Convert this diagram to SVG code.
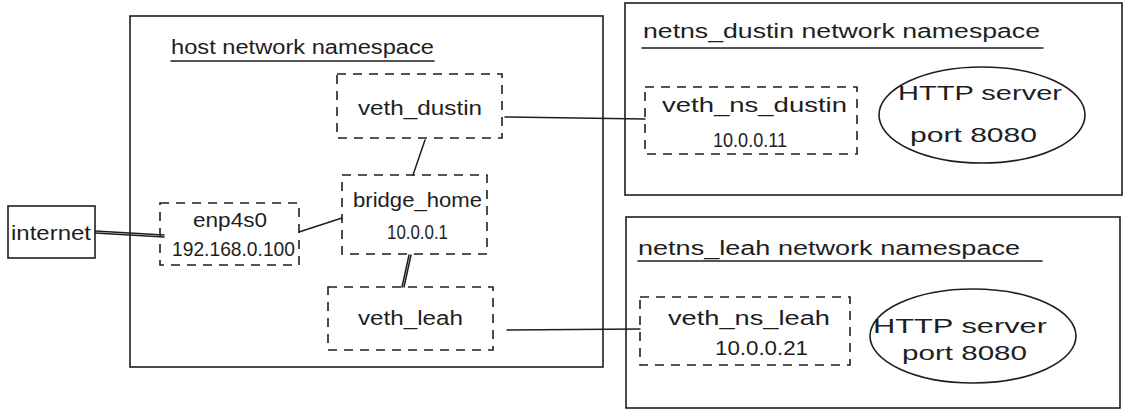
<svg xmlns="http://www.w3.org/2000/svg" width="1124" height="413" viewBox="0 0 1124 413">
<style>
.bg{fill:#ffffff}
.box{fill:none;stroke:#1e1e1e;stroke-width:1.6}
.dash{fill:none;stroke:#1e1e1e;stroke-width:1.6;stroke-dasharray:9 7}
.ln{fill:none;stroke:#1e1e1e;stroke-width:1.5;stroke-linecap:round}
.t{font-family:"Liberation Sans",Arial,sans-serif;font-size:20px;fill:#1e1e1e;text-anchor:middle}
.tl{font-family:"Liberation Sans",Arial,sans-serif;font-size:20px;fill:#1e1e1e;text-anchor:start}
</style>
<rect class="bg" x="0" y="0" width="1124" height="413"/>

<g id="host-ns">
  <rect class="box" x="130" y="16" width="473" height="351"/>
  <text class="tl" x="171" y="54" textLength="263" lengthAdjust="spacingAndGlyphs">host network namespace</text>
  <line class="ln" x1="171" y1="61" x2="434" y2="61"/>
</g>

<g id="netns-dustin">
  <rect class="box" x="625" y="3" width="497" height="192"/>
  <text class="tl" x="643" y="38" textLength="397" lengthAdjust="spacingAndGlyphs">netns_dustin network namespace</text>
  <line class="ln" x1="642" y1="48" x2="1043" y2="48"/>
</g>

<g id="netns-leah">
  <rect class="box" x="626" y="217" width="494" height="191"/>
  <text class="tl" x="638" y="255" textLength="382" lengthAdjust="spacingAndGlyphs">netns_leah network namespace</text>
  <line class="ln" x1="638" y1="261" x2="1042" y2="261"/>
</g>

<g id="internet">
  <rect class="box" x="8" y="206" width="87" height="52"/>
  <text class="tl" x="11" y="240" textLength="80" lengthAdjust="spacingAndGlyphs">internet</text>
</g>

<g id="enp4s0">
  <rect class="dash" x="160" y="203" width="139" height="62"/>
  <text class="tl" x="193" y="227" textLength="74" lengthAdjust="spacingAndGlyphs">enp4s0</text>
  <text class="tl" x="172" y="256" textLength="123" lengthAdjust="spacingAndGlyphs">192.168.0.100</text>
</g>

<g id="veth_dustin">
  <rect class="dash" x="337" y="74" width="165" height="64"/>
  <text class="tl" x="358" y="115" textLength="124" lengthAdjust="spacingAndGlyphs">veth_dustin</text>
</g>

<g id="bridge_home">
  <rect class="dash" x="342" y="175" width="145" height="79"/>
  <text class="tl" x="353" y="207" textLength="129" lengthAdjust="spacingAndGlyphs">bridge_home</text>
  <text class="tl" x="387" y="239" textLength="61" lengthAdjust="spacingAndGlyphs">10.0.0.1</text>
</g>

<g id="veth_leah">
  <rect class="dash" x="328" y="287" width="165" height="63"/>
  <text class="tl" x="358" y="325" textLength="105" lengthAdjust="spacingAndGlyphs">veth_leah</text>
</g>

<g id="veth_ns_dustin">
  <rect class="dash" x="645" y="87" width="212" height="67"/>
  <text class="tl" x="662" y="112" textLength="185" lengthAdjust="spacingAndGlyphs">veth_ns_dustin</text>
  <text class="tl" x="713" y="147" textLength="74" lengthAdjust="spacingAndGlyphs">10.0.0.11</text>
</g>

<g id="http-dustin">
  <ellipse class="box" cx="982" cy="115" rx="103" ry="48"/>
  <text class="tl" x="898" y="100" textLength="164" lengthAdjust="spacingAndGlyphs">HTTP server</text>
  <text class="tl" x="910" y="142" textLength="127" lengthAdjust="spacingAndGlyphs">port 8080</text>
</g>

<g id="veth_ns_leah">
  <rect class="dash" x="640" y="297" width="210" height="68"/>
  <text class="tl" x="668" y="325" textLength="162" lengthAdjust="spacingAndGlyphs">veth_ns_leah</text>
  <text class="tl" x="715" y="355" textLength="93" lengthAdjust="spacingAndGlyphs">10.0.0.21</text>
</g>

<g id="http-leah">
  <ellipse class="box" cx="973" cy="336" rx="103" ry="47"/>
  <text class="tl" x="873" y="333" textLength="174" lengthAdjust="spacingAndGlyphs">HTTP server</text>
  <text class="tl" x="902" y="360" textLength="125" lengthAdjust="spacingAndGlyphs">port 8080</text>
</g>

<g id="connectors">
  <path class="ln" d="M95 231 L164 235 M95 233 L164 237"/>
  <line class="ln" x1="299" y1="232" x2="342" y2="218"/>
  <line class="ln" x1="425" y1="140" x2="413" y2="175"/>
  <path class="ln" d="M409 255 L402 287 M411 255 L404 287"/>
  <line class="ln" x1="505" y1="117" x2="645" y2="119"/>
  <line class="ln" x1="507" y1="330" x2="640" y2="329"/>
</g>
</svg>
